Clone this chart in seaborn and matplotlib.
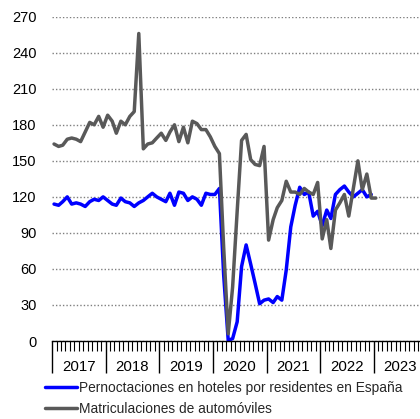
import numpy as np
import pandas as pd
import seaborn as sns
import matplotlib.pyplot as plt
import matplotlib.dates as mdates
from matplotlib.ticker import FuncFormatter

sns.set_style('white')
plt.rcParams['font.family'] = ['Liberation Sans', 'DejaVu Sans']

# indices mensuales (ene-2017 en adelante)
pernoctaciones = [114, 113, 116, 120, 114, 115, 114, 112, 116, 118, 117, 120,
                  117, 114, 113, 119, 116, 115, 112, 115, 117, 120, 123, 120,
                  118, 116, 123, 113, 124, 123, 117, 120, 118, 113, 123, 122,
                  122, 127, 55, 0.5, 2, 16, 62, 80, 64, 48, 31, 34,
                  35, 32, 37, 34, 59, 95, 113, 128, 122, 124, 104, 108,
                  96, 109, 102, 122, 126, 129, 124, 120, 123, 126, 120, 122]
matriculaciones = [164, 162, 163, 168, 169, 168, 166, 174, 182, 180, 187, 178,
                   188, 183, 173, 183, 180, 187, 191, 256, 160, 164, 165, 169,
                   173, 167, 174, 180, 166, 178, 165, 183, 181, 176, 176, 170,
                   162, 156, 78, 6, 45, 108, 167, 172, 151, 147, 146, 162,
                   84, 101, 111, 117, 133, 124, 124, 122, 127, 124, 122, 132,
                   85, 101, 77, 109, 115, 122, 104, 127, 150, 126, 139, 119, 119]
lbl_p = 'Pernoctaciones en hoteles por residentes en España'
lbl_m = 'Matriculaciones de automóviles'

fechas_p = pd.date_range('2017-01-01', periods=len(pernoctaciones), freq='MS') + pd.Timedelta(days=14)
fechas_m = pd.date_range('2017-01-01', periods=len(matriculaciones), freq='MS') + pd.Timedelta(days=14)
df = pd.concat([
    pd.DataFrame({'fecha': fechas_p, 'valor': pernoctaciones, 'serie': lbl_p}),
    pd.DataFrame({'fecha': fechas_m, 'valor': matriculaciones, 'serie': lbl_m}),
])

fig = plt.figure(figsize=(4.2, 4.19), dpi=100)
ax = fig.add_axes([52 / 420, 1 - 341 / 419, 1 - 52 / 420, (341 - 16.7) / 419])

sns.lineplot(data=df, x='fecha', y='valor', hue='serie',
             palette={lbl_p: '#0000ff', lbl_m: '#595959'},
             linewidth=2.5, ax=ax)

ax.set_ylim(0, 270)
ax.set_yticks(np.arange(0, 271, 30))
ax.set_xlim(pd.Timestamp('2017-01-01'), pd.Timestamp('2023-11-12'))
ax.set_xlabel('')
ax.set_ylabel('')

ax.yaxis.grid(True, linestyle=(0, (1, 1.5)), color='#7f7f7f', linewidth=1)
ax.xaxis.grid(False)
for s in ['left', 'top', 'right']:
    ax.spines[s].set_visible(False)
ax.spines['bottom'].set_color('black')
ax.spines['bottom'].set_linewidth(1)

ax.xaxis.set_major_locator(mdates.YearLocator())
ax.xaxis.set_minor_locator(mdates.MonthLocator())
ax.xaxis.set_minor_formatter(FuncFormatter(
    lambda v, pos: str(mdates.num2date(v).year) if mdates.num2date(v).month == 7 else ''))
ax.tick_params(axis='x', which='major', bottom=True, direction='out', length=23, width=1,
               color='black', labelbottom=False)
ax.tick_params(axis='x', which='minor', bottom=True, direction='out', length=7, width=0.8,
               color='black', pad=7, labelsize=10.8, labelcolor='black')
ax.tick_params(axis='y', left=False, length=0, pad=11, labelsize=10.5, labelcolor='black')

h, l = ax.get_legend_handles_labels()
ax.get_legend().remove()
fig.legend(h, l, loc='upper left', bbox_to_anchor=(45 / 420, 1 - 381 / 419),
           frameon=False, fontsize=9.9, handlelength=2.3, handletextpad=0.15,
           labelspacing=0.5, borderpad=0, borderaxespad=0)

fig.savefig('out.png', dpi=100)
